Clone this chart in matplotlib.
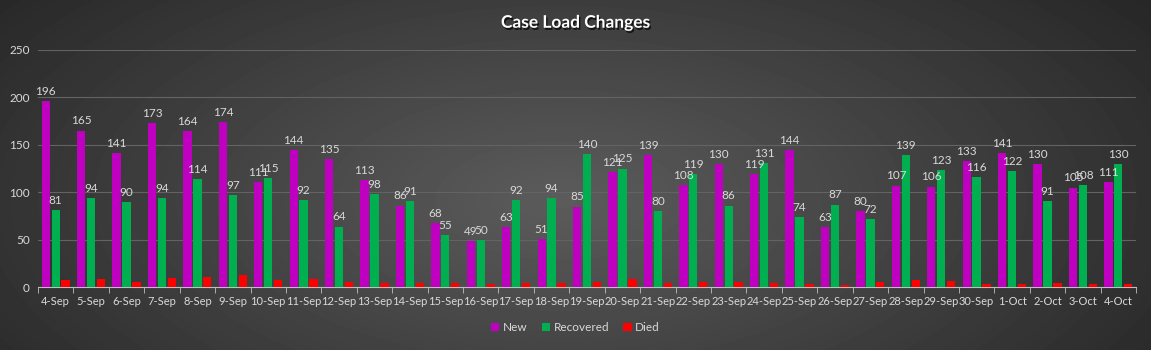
import numpy as np
import matplotlib
matplotlib.use('Agg')
from matplotlib import pyplot as plt
import matplotlib.patheffects as pe

dates = ['4-Sep', '5-Sep', '6-Sep', '7-Sep', '8-Sep', '9-Sep', '10-Sep', '11-Sep', '12-Sep',
         '13-Sep', '14-Sep', '15-Sep', '16-Sep', '17-Sep', '18-Sep', '19-Sep', '20-Sep',
         '21-Sep', '22-Sep', '23-Sep', '24-Sep', '25-Sep', '26-Sep', '27-Sep', '28-Sep',
         '29-Sep', '30-Sep', '1-Oct', '2-Oct', '3-Oct', '4-Oct']
new = [196, 165, 141, 173, 164, 174, 111, 144, 135, 113, 86, 68, 49, 63, 51, 85, 121,
       139, 108, 130, 119, 144, 63, 80, 107, 106, 133, 141, 130, 105, 111]
recovered = [81, 94, 90, 94, 114, 97, 115, 92, 64, 98, 91, 55, 50, 92, 94, 140, 125,
             80, 119, 86, 131, 74, 87, 72, 139, 123, 116, 122, 91, 108, 130]
died = [8, 9, 6, 10, 11, 13, 8, 9, 6, 5, 5, 5, 4, 5, 5, 6, 9, 5, 6, 6, 5, 4, 2, 6,
        8, 7, 4, 3, 5, 3, 4]

plt.rcParams['font.family'] = ['Lato', 'DejaVu Sans']
txt = '#d9d9d9'

fig = plt.figure(figsize=(11.51, 3.5), dpi=100)

# radial gradient background
bg = fig.add_axes([0, 0, 1, 1], zorder=-10)
yy, xx = np.mgrid[0:350, 0:1151]
r = np.sqrt(((xx - 560) / 700.0) ** 2 + ((yy - 200) / 330.0) ** 2)
shade = np.clip(0.36 - 0.2 * r, 0.12, 0.36)
bg.imshow(shade, cmap='gray', vmin=0, vmax=1, aspect='auto', interpolation='bilinear')
bg.axis('off')

ax = fig.add_axes([0.033, 0.179, 0.954, 0.679])
ax.patch.set_alpha(0)

x = np.arange(len(dates))
w = 0.235
off = 0.28
b1 = ax.bar(x - off, new, w, color='#c000c0', label='New', zorder=3)
b2 = ax.bar(x, recovered, w, color='#00b050', label='Recovered', zorder=3)
b3 = ax.bar(x + off, died, w, color='#ff0000', label='Died', zorder=3)

for bars in (b1, b2):
    ax.bar_label(bars, padding=3, color=txt, fontsize=8.5)

ax.set_xlim(-0.5, len(dates) - 0.5)
ax.set_ylim(0, 250)
ax.set_yticks([0, 50, 100, 150, 200, 250])
ax.set_xticks(x)
ax.set_xticklabels(dates)
ax.grid(axis='y', color='#636363', linewidth=0.8, zorder=0)
ax.set_axisbelow(True)

for s in ('top', 'right', 'left'):
    ax.spines[s].set_visible(False)
ax.spines['bottom'].set_color('#bfbfbf')
ax.tick_params(axis='y', length=0, colors=txt, labelsize=8.5, pad=6)
ax.tick_params(axis='x', length=0, colors=txt, labelsize=8, pad=6)
ax.set_xticks(np.arange(len(dates) + 1) - 0.5, minor=True)
ax.tick_params(axis='x', which='minor', length=4, color='#bfbfbf')

fig.text(0.5, 0.935, 'Case Load Changes', ha='center', va='center', color='white',
         fontsize=12.5, fontweight='bold',
         path_effects=[pe.withSimplePatchShadow(offset=(1, -1.5), shadow_rgbFace='black', alpha=0.7)])

leg = fig.legend(loc='center', bbox_to_anchor=(0.5, 0.063), ncol=3, frameon=False,
                 fontsize=8.5, handlelength=0.7, handleheight=0.7, handletextpad=0.3,
                 columnspacing=1.2)
for t in leg.get_texts():
    t.set_color(txt)

fig.savefig('out.png', dpi=100)
